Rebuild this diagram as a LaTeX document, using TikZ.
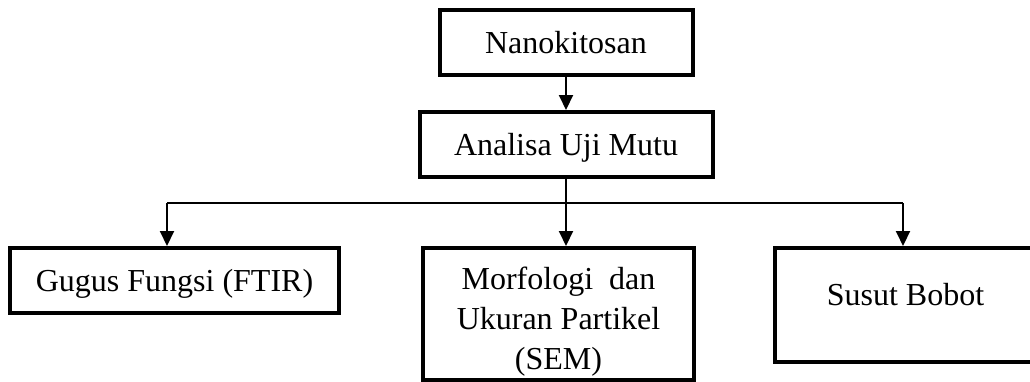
\documentclass[tikz,border=0pt]{standalone}
\usepackage{fontspec}
\setmainfont{Liberation Serif}
\usepackage{xcolor}
\usepackage{tikz}
\usetikzlibrary{shapes,arrows,positioning,calc,arrows.meta}

\tikzset{
    kotak/.style={
        draw,
        line width=4pt,
        inner sep=0pt,
        minimum height=65pt,
        font=\fontsize{32}{40}\selectfont,
        text height=24pt,
        text depth=3pt
    },
    panah/.style={
        line width=2pt,
        -{Triangle[width=14pt,length=15pt]}
    }
}

\begin{document}
\begin{tikzpicture}[x=1pt, y=-1pt]
                \useasboundingbox (0,0) rectangle (1030,381);

                \node[kotak, minimum width=253pt] (nano) at (566,42.5) {Nanokitosan};
                \node[kotak, minimum width=293pt] (analisa) at (566,144.5) {Analisa Uji Mutu};

                \node[kotak, minimum width=329pt] (gugus) at (174.5,280.5) {Gugus Fungsi (FTIR)};
                \node[kotak, minimum width=271pt, minimum height=132pt,
                      align=center, text height=, text depth=] (morf) at (558.5,314)
                      {\rule{0pt}{38pt}Morfologi\ \ dan\\Ukuran Partikel\\(SEM)};
                \node[kotak, minimum width=261pt, minimum height=114pt,
                      text height=12pt, text depth=12pt] (susut) at (905.5,305) {Susut Bobot};

                \coordinate (kiri) at (167,203);
                \coordinate (kanan) at (903,203);

                \draw[panah] (nano) -- (analisa);
                \draw[panah] (analisa.south) -- (analisa.south |- morf.north);
                \draw[line width=2pt] (kiri) -- (kanan);
                \draw[panah] (kiri) -- (kiri |- gugus.north);
                \draw[panah] (kanan) -- (kanan |- susut.north);

            \end{tikzpicture}
\end{document}
